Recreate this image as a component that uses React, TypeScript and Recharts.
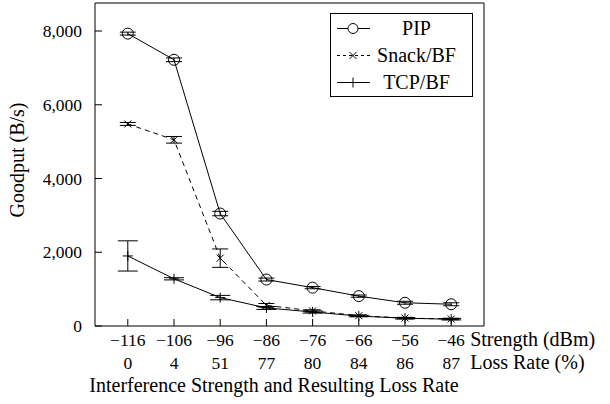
import React from "react";
import {
  LineChart,
  Line,
  XAxis,
  YAxis,
  ErrorBar,
  Label,
} from "recharts";

const strengths = [-116, -106, -96, -86, -76, -66, -56, -46];
const lossRates = [0, 4, 51, 77, 80, 84, 86, 87];
const pip = [7930, 7220, 3050, 1260, 1040, 810, 630, 590];
const pipErr = [40, 50, 60, 40, 30, 30, 40, 40];
const snack = [5480, 5050, 1840, 560, 410, 280, 215, 190];
const snackErr = [40, 90, 250, 50, 30, 20, 20, 20];
const tcp = [1900, 1280, 770, 490, 380, 270, 210, 185];
const tcpErr = [410, 30, 60, 40, 30, 20, 20, 20];
const yTicks = [0, 2000, 4000, 6000, 8000];

const data = strengths.map((s, i) => ({
  strength: s,
  loss: lossRates[i],
  pip: pip[i],
  pipErr: pipErr[i],
  snack: snack[i],
  snackErr: snackErr[i],
  tcp: tcp[i],
  tcpErr: tcpErr[i],
}));

const FONT = "Liberation Serif, DejaVu Serif, Times New Roman, serif";
const NUM_FS = 17.5; // numbers
const TXT_FS = 20; // words

const circleDot = (p: any) => (
  <circle key={`c${p.index}`} cx={p.cx} cy={p.cy} r={5.5} fill="none" stroke="#000" strokeWidth={1} />
);
const crossDot = (p: any) => (
  <path
    key={`x${p.index}`}
    d={`M${p.cx - 3.5},${p.cy - 3.5}L${p.cx + 3.5},${p.cy + 3.5}M${p.cx - 3.5},${p.cy + 3.5}L${p.cx + 3.5},${p.cy - 3.5}`}
    stroke="#000"
    strokeWidth={1}
  />
);
const plusDot = (p: any) => (
  <path
    key={`p${p.index}`}
    d={`M${p.cx - 5},${p.cy}L${p.cx + 5},${p.cy}M${p.cx},${p.cy - 5}L${p.cx},${p.cy + 5}`}
    stroke="#000"
    strokeWidth={1}
  />
);

// minus sign instead of hyphen, like the TeX original
const fmtStrength = (v: number) => (v < 0 ? `\u2212${-v}` : `${v}`);

const XTick = (props: any) => {
  const { x, y, payload, index } = props;
  const i = strengths.indexOf(payload.value);
  return (
    <g fontFamily={FONT} fill="#000">
      <text x={x} y={y + 20} textAnchor="middle" fontSize={NUM_FS}>
        {fmtStrength(payload.value)}
      </text>
      <text x={x} y={y + 43} textAnchor="middle" fontSize={NUM_FS}>
        {lossRates[i]}
      </text>
      {index === strengths.length - 1 && (
        <>
          <text x={x + 19} y={y + 20} fontSize={TXT_FS}>Strength (dBm)</text>
          <text x={x + 19} y={y + 43} fontSize={TXT_FS}>Loss Rate (%)</text>
        </>
      )}
    </g>
  );
};

const YTick = (props: any) => {
  const { x, y, payload } = props;
  return (
    <text x={x} y={y + 6} textAnchor="end" fontFamily={FONT} fontSize={NUM_FS} fill="#000">
      {payload.value.toLocaleString("en-US")}
    </text>
  );
};

const legendItems = [
  { name: "PIP", mark: "o", dash: undefined },
  { name: "Snack/BF", mark: "x", dash: "3 3" },
  { name: "TCP/BF", mark: "+", dash: undefined },
];

const LegendBox = () => (
  <div
    style={{
      position: "absolute",
      left: 330,
      top: 13,
      width: 141,
      height: 82,
      border: "1px solid #000",
      background: "#fff",
      fontFamily: FONT,
      fontSize: TXT_FS,
    }}
  >
    {legendItems.map((it, i) => (
      <div
        key={it.name}
        style={{
          position: "absolute",
          left: 0,
          top: 1 + i * 27,
          height: 27,
          width: 141,
          display: "flex",
          alignItems: "center",
        }}
      >
        <svg width={36} height={27} style={{ marginLeft: 6, flex: "none" }}>
          <line x1={0} y1={13.5} x2={33} y2={13.5} stroke="#000" strokeDasharray={it.dash} />
          {it.mark === "o" && <circle cx={16} cy={13.5} r={5} fill="#fff" stroke="#000" />}
          {it.mark === "x" && (
            <path d="M12.5,10L19.5,17M12.5,17L19.5,10" stroke="#000" fill="none" />
          )}
          {it.mark === "+" && <path d="M11,13.5L21,13.5M16,8.5L16,18.5" stroke="#000" />}
        </svg>
        <span style={{ flex: 1, textAlign: "center", marginRight: 12, whiteSpace: "nowrap" }}>
          {it.name}
        </span>
      </div>
    ))}
  </div>
);

const App = () => {
  const domain: [number, number] = [-123.1, -38.9];
  return (
    <div style={{ position: "absolute", left: 0, top: 0, width: 610, height: 404, background: "#fff" }}>
      <LineChart
        width={610}
        height={404}
        data={data}
        margin={{ top: 0, right: 116, bottom: 8, left: 0 }}
        style={{ fontFamily: FONT }}
      >
        <XAxis
          dataKey="strength"
          type="number"
          domain={domain}
          ticks={strengths}
          allowDataOverflow
          height={70}
          stroke="#000"
          tickSize={-7}
          tickMargin={7}
          tick={<XTick />}
          interval={0}
        >
          <Label
            content={() => (
              <text x={274} y={392} textAnchor="middle" fontFamily={FONT} fontSize={TXT_FS} fill="#000">
                Interference Strength and Resulting Loss Rate
              </text>
            )}
          />
        </XAxis>
        <XAxis
          xAxisId="top"
          orientation="top"
          dataKey="strength"
          type="number"
          domain={domain}
          ticks={strengths}
          allowDataOverflow
          height={3}
          stroke="#000"
          tickSize={-7}
          tick={false}
          interval={0}
        />
        <YAxis
          type="number"
          domain={[0, 8760]}
          ticks={yTicks}
          allowDataOverflow
          width={95}
          stroke="#000"
          tickSize={-7}
          tickMargin={20}
          tick={<YTick />}
          interval={0}
        >
          <Label
            content={() => (
              <text
                transform="translate(24,160) rotate(-90)"
                textAnchor="middle"
                fontFamily={FONT}
                fontSize={TXT_FS}
                fill="#000"
              >
                Goodput (B/s)
              </text>
            )}
          />
        </YAxis>
        <YAxis
          yAxisId="right"
          orientation="right"
          type="number"
          domain={[0, 8760]}
          ticks={yTicks}
          allowDataOverflow
          width={10}
          stroke="#000"
          tickSize={-7}
          tick={false}
          interval={0}
        />
        <Line
          dataKey="pip"
          stroke="#000"
          strokeWidth={1}
          dot={circleDot}
          isAnimationActive={false}
        >
          <ErrorBar dataKey="pipErr" width={8} stroke="#000" strokeWidth={1} />
        </Line>
        <Line
          dataKey="snack"
          stroke="#000"
          strokeWidth={1}
          strokeDasharray="5 4"
          dot={crossDot}
          isAnimationActive={false}
        >
          <ErrorBar dataKey="snackErr" width={8} stroke="#000" strokeWidth={1} />
        </Line>
        <Line
          dataKey="tcp"
          stroke="#000"
          strokeWidth={1}
          dot={plusDot}
          isAnimationActive={false}
        >
          <ErrorBar dataKey="tcpErr" width={10} stroke="#000" strokeWidth={1} />
        </Line>
      </LineChart>
      <LegendBox />
    </div>
  );
};

export default App;
